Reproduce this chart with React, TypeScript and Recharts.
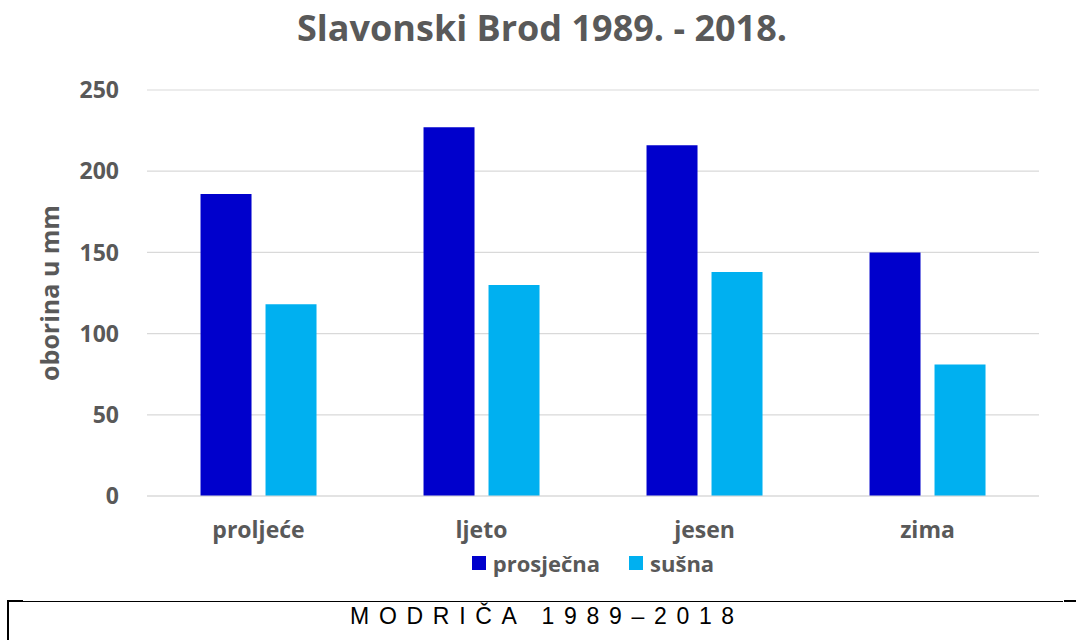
import React from 'react';
import { BarChart, Bar, XAxis, YAxis, CartesianGrid } from 'recharts';

// Seasonal precipitation, Slavonski Brod 1989–2018
const seasons = ['proljeće', 'ljeto', 'jesen', 'zima'];
const prosjecna = [186, 227, 216, 150];
const susna = [118, 130, 138, 81];
const yTicks = [0, 50, 100, 150, 200, 250];

const seriesNames = ['prosječna', 'sušna'];
const seriesColors = ['#0000CC', '#00B0F0'];

const data = seasons.map((s, i) => ({ season: s, prosjecna: prosjecna[i], susna: susna[i] }));

const FONT = '"Open Sans", "Noto Sans", sans-serif';
const GREY = '#595959';

const YLabel = (props: any) => {
  const vb = props.viewBox || { x: 0, y: 0, width: 0, height: 0 };
  const x = vb.x + 59;
  const y = vb.y + vb.height / 2;
  return (
    <text
      x={x}
      y={y}
      transform={`rotate(-90, ${x}, ${y})`}
      textAnchor="middle"
      fill={GREY}
      fontFamily={FONT}
      fontWeight={700}
      fontSize={25}
    >
      oborina u mm
    </text>
  );
};

export default function App() {
  return (
    <div
      style={{
        position: 'absolute',
        left: 0,
        top: 0,
        width: 1076,
        height: 640,
        background: '#fff',
        overflow: 'hidden',
        fontFamily: FONT,
      }}
    >
      <div
        style={{
          position: 'absolute',
          left: 8,
          top: 10,
          width: 1068,
          textAlign: 'center',
          fontSize: 36,
          lineHeight: '36px',
          fontWeight: 700,
          color: GREY,
          whiteSpace: 'nowrap',
        }}
      >
        Slavonski Brod 1989. - 2018.
      </div>

      <div style={{ position: 'absolute', left: 0, top: 0 }}>
        <BarChart
          width={1076}
          height={600}
          data={data}
          margin={{ top: 90, right: 37, bottom: 64, left: 0 }}
          barCategoryGap="24%"
          barGap={14}
        >
          <CartesianGrid vertical={false} stroke="#d9d9d9" strokeWidth={1.2} />
          <XAxis
            dataKey="season"
            height={40}
            axisLine={{ stroke: '#d9d9d9', strokeWidth: 1.2 }}
            tickLine={false}
            tickSize={0}
            tickMargin={26}
            tick={{ fill: GREY, fontFamily: FONT, fontWeight: 700, fontSize: 23 }}
          />
          <YAxis
            width={147}
            domain={[0, 250]}
            ticks={yTicks}
            axisLine={false}
            tickLine={false}
            tickSize={0}
            tickMargin={28}
            tick={{ fill: GREY, fontFamily: FONT, fontWeight: 700, fontSize: 23 }}
            label={<YLabel />}
          />
          <Bar dataKey="prosjecna" name={seriesNames[0]} fill={seriesColors[0]} isAnimationActive={false} />
          <Bar dataKey="susna" name={seriesNames[1]} fill={seriesColors[1]} isAnimationActive={false} />
        </BarChart>
      </div>

      {/* legend */}
      <div
        style={{
          position: 'absolute',
          left: 147,
          width: 892,
          top: 550,
          height: 26,
          display: 'flex',
          justifyContent: 'center',
          alignItems: 'center',
          gap: 29,
        }}
      >
        {seriesNames.map((n, i) => (
          <div key={n} style={{ display: 'flex', alignItems: 'center' }}>
            <span
              style={{ display: 'inline-block', width: 14, height: 14, background: seriesColors[i], marginRight: 7 }}
            />
            <span style={{ fontSize: 22, fontWeight: 700, color: GREY, lineHeight: '26px' }}>{n}</span>
          </div>
        ))}
      </div>

      {/* footer frame */}
      <div style={{ position: 'absolute', left: 7, top: 601, width: 1056, height: 1, background: '#000' }} />
      <div style={{ position: 'absolute', left: 7, top: 600, width: 16, height: 2, background: '#000' }} />
      <div style={{ position: 'absolute', left: 1064, top: 600, width: 12, height: 2, background: '#000' }} />
      <div style={{ position: 'absolute', left: 7, top: 600, width: 2, height: 40, background: '#000' }} />
      <div
        style={{
          position: 'absolute',
          left: 0,
          top: 605,
          width: 1076,
          paddingLeft: 18,
          boxSizing: 'border-box',
          textAlign: 'center',
          fontFamily: '"Liberation Sans", Arial, sans-serif',
          fontSize: 23,
          lineHeight: '23px',
          letterSpacing: 9.7,
          color: '#000',
          whiteSpace: 'nowrap',
        }}
      >
        MODRIČA 1989–2018
      </div>
    </div>
  );
}
